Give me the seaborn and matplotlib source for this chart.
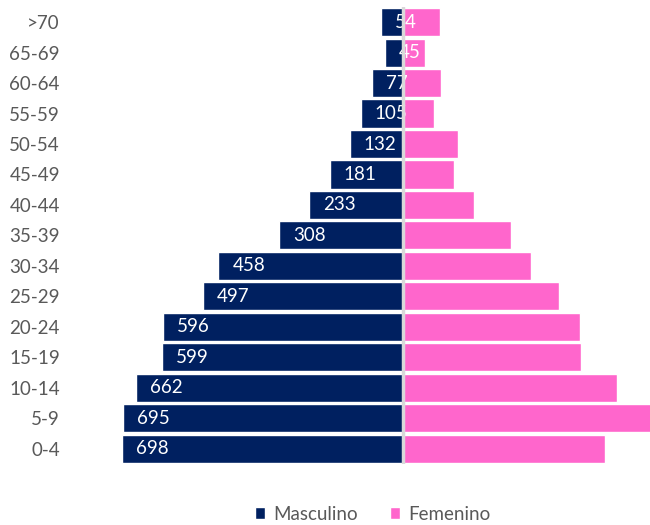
import seaborn as sns
import matplotlib.pyplot as plt
import numpy as np

# datos de la piramide
edades = [">70", "65-69", "60-64", "55-59", "50-54", "45-49", "40-44", "35-39",
          "30-34", "25-29", "20-24", "15-19", "10-14", "5-9", "0-4"]
masculino = [54, 45, 77, 105, 132, 181, 233, 308, 458, 497, 596, 599, 662, 695, 698]
femenino = [92, 55, 94, 78, 136, 127, 176, 267, 317, 388, 440, 441, 532, 615, 502]

azul = "#002060"
rosa = "#FF66CC"
gris = "#595959"

sns.set_style("white")
plt.rcParams['font.family'] = ['Lato', 'DejaVu Sans']

fig = plt.figure(figsize=(6.5, 5.25), dpi=100)
ax = fig.add_axes([0.186, 0.116, 0.814, 0.871])

sns.barplot(x=-np.array(masculino), y=edades, orient='h', color=azul,
            width=0.92, ax=ax, label="Masculino", saturation=1)
sns.barplot(x=femenino, y=edades, orient='h', color=rosa,
            width=0.92, ax=ax, label="Femenino", saturation=1)

# etiquetas de valor dentro de las barras masculinas
for i, v in enumerate(masculino):
    ax.annotate(str(v), xy=(-v, i), xytext=(10, 0), textcoords='offset points',
                ha='left', va='center', color='white', fontsize=13.5)

ax.axvline(0, color="#d9d9d9", lw=2.5, zorder=3)
ax.set_xlim(-700, 613)
ax.set_ylim(14.5, -0.5)
ax.set_xticks([])
ax.set_xlabel("")
ax.set_ylabel("")
ax.tick_params(axis='y', length=0, labelsize=13.5, labelcolor=gris, pad=44)
for s in ax.spines.values():
    s.set_visible(False)

ax.legend(loc='upper center', bbox_to_anchor=(0.476, -0.054), ncol=2, frameon=False,
          fontsize=13.5, labelcolor=gris, handlelength=0.55, handleheight=0.55,
          handletextpad=0.45, columnspacing=1.7)

plt.savefig("out.png", dpi=100)
